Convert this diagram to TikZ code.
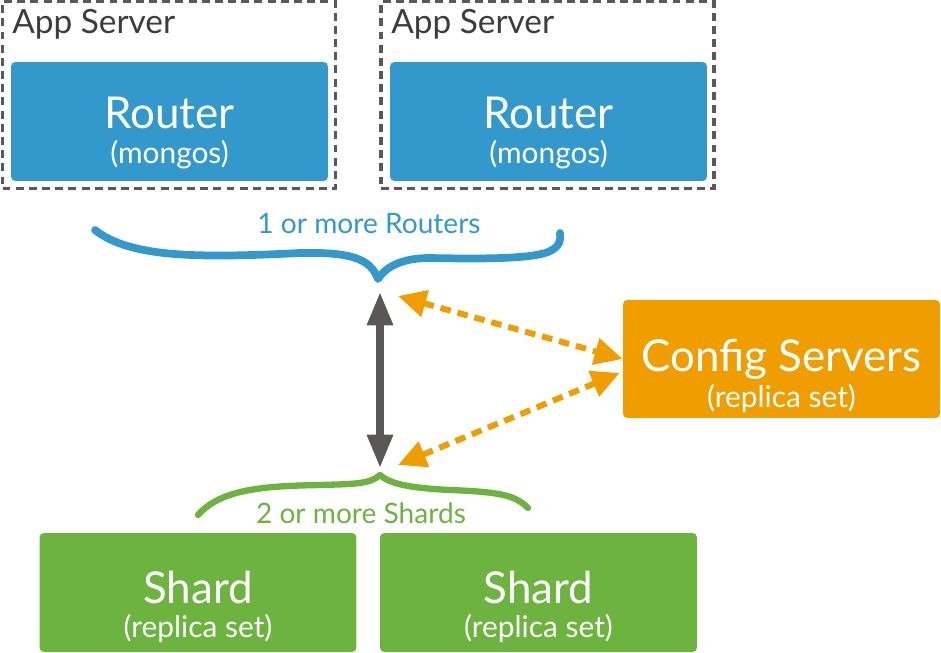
\documentclass[tikz,border=0pt]{standalone}
\usepackage{fontspec}
\setmainfont{Lato}
\usetikzlibrary{arrows.meta}
\definecolor{routerblue}{HTML}{3399CC}
\definecolor{cfgorange}{HTML}{F09D00}
\definecolor{shardgreen}{HTML}{6CB33F}
\definecolor{dashgray}{HTML}{595959}
\definecolor{arrowgray}{HTML}{5A5754}
\definecolor{textgray}{HTML}{3C3C3C}

\begin{document}
\begin{tikzpicture}[x=0.02cm,y=-0.02cm,
    appbox/.style={draw=dashgray,line width=2.2pt,dash pattern=on 4.5pt off 3pt,
      minimum width=6.66cm,minimum height=3.74cm,inner sep=0pt},
    srvbox/.style={rounded corners=2.5pt,minimum width=6.34cm,inner sep=0pt},
    router/.style={srvbox,fill=routerblue,minimum height=2.38cm},
    config/.style={srvbox,fill=cfgorange,minimum height=2.36cm},
    shard/.style={srvbox,fill=shardgreen,minimum height=2.38cm},
    apptxt/.style={text=textgray,font=\fontsize{19}{22}\selectfont,anchor=base west,inner sep=0pt},
    bigtxt/.style={text=white,font=\fontsize{25}{30}\selectfont,anchor=base,inner sep=0pt},
    subtxt/.style={text=white,font=\fontsize{17}{20}\selectfont,anchor=base,inner sep=0pt},
    bracetxt/.style={font=\fontsize{16}{19}\selectfont,anchor=base,inner sep=0pt},
    brace/.style={line cap=round,line join=round},
    bothway/.style={arrowgray,line width=4.2pt,
      {Triangle[length=19pt,width=14pt]}-{Triangle[length=19pt,width=14pt]}},
    syncarrow/.style={cfgorange,line width=3.4pt,dash pattern=on 6pt off 4pt,
      {Triangle[length=16pt,width=15pt]}-{Triangle[length=16pt,width=15pt]}}]
  \useasboundingbox (0,0) rectangle (941,653);

  % app servers with their routers
  \node[appbox] (app1) at (169,95) {};
  \node[appbox] (app2) at (547.5,95) {};
  \node[apptxt] (app1t) at (12,33) {App Server};
  \node[apptxt] (app2t) at (391,33) {App Server};
  \node[router] (r1) at (169.5,121.5) {};
  \node[router] (r2) at (548.5,121.5) {};
  \node[bigtxt] (r1t) at (169.5,128) {Router};
  \node[subtxt] (r1s) at (169.5,163) {(mongos)};
  \node[bigtxt] (r2t) at (548.5,128) {Router};
  \node[subtxt] (r2s) at (548.5,163) {(mongos)};

  % routers brace
  \node[bracetxt,text=routerblue] (rlabel) at (369,233) {1 or more Routers};
  \draw[brace,routerblue,line width=4.4pt] (95,230) .. controls (130,258) and (200,258) .. (300,253)
    .. controls (350,252) and (370,258) .. (378,279)
    .. controls (385,268) and (400,258) .. (430,258)
    .. controls (480,259) and (530,259) .. (548,252)
    .. controls (560,247) and (561,240) .. (560,233);

  % config servers
  \node[config] (cfg) at (781.5,359) {};
  \node[bigtxt] (cfgt) at (781.5,371) {Config Servers};
  \node[subtxt] (cfgs) at (781.5,407) {(replica set)};

  % shards
  \node[shard] (s1) at (198,592.5) {};
  \node[shard] (s2) at (538.5,592.5) {};
  \node[bigtxt] (s1t) at (198,603) {Shard};
  \node[subtxt] (s1s) at (198,637) {(replica set)};
  \node[bigtxt] (s2t) at (538.5,603) {Shard};
  \node[subtxt] (s2s) at (538.5,637) {(replica set)};

  % shards brace
  \node[bracetxt,text=shardgreen] (slabel) at (361,523) {2 or more Shards};
  \draw[brace,shardgreen,line width=3.6pt] (198,515) .. controls (220,490) and (260,486) .. (320,485)
    .. controls (355,484) and (370,484) .. (380,475)
    .. controls (390,484) and (410,488) .. (450,490)
    .. controls (500,492) and (515,495) .. (528,508);

  % connectors
  \coordinate (routersTip) at (380,292);
  \coordinate (shardsTip) at (380,468);
  \coordinate (routerSide) at (398,296);
  \coordinate (shardSide) at (398,465);
  \draw[bothway] (routersTip) -- (shardsTip);
  \draw[syncarrow] (routerSide) -- (cfg.west);
  \draw[syncarrow] ([shift={(-3,14)}]cfg.west) -- (shardSide);
\end{tikzpicture}
\end{document}
